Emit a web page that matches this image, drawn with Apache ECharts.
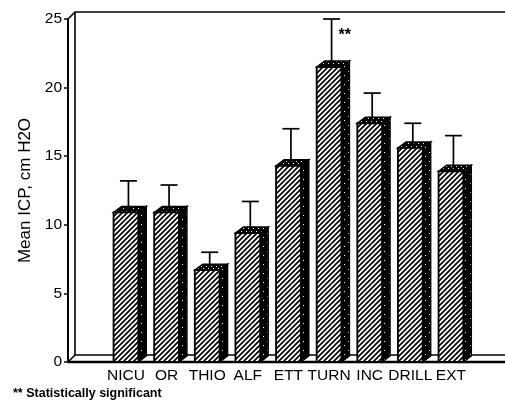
<!DOCTYPE html>
<html><head><meta charset="utf-8">
<script src="https://cdn.jsdelivr.net/npm/echarts@6/dist/echarts.min.js"></script>
<style>html,body{margin:0;padding:0;background:#fff}#c{width:505px;height:400px}</style>
</head><body><div id="c"></div>
<script>
// ---- data ----
const categories = ['NICU', 'OR', 'THIO', 'ALF', 'ETT', 'TURN', 'INC', 'DRILL', 'EXT'];
const meanICP    = [10.9, 10.9, 6.7, 9.4, 14.3, 21.5, 17.4, 15.6, 13.9];
const sdICP      = [2.3, 2.0, 1.3, 2.3, 2.7, 3.5, 2.2, 1.8, 2.6];
const significant = [false, false, false, false, false, true, false, false, false];
const yMin = 0, yMax = 25, yStep = 5;
const yAxisTitle = 'Mean ICP, cm H2O';
const footnote = '** Statistically significant';

// ---- textures ----
function hatch() {
  const s = 5, c = document.createElement('canvas'); c.width = s; c.height = s;
  const g = c.getContext('2d'); g.fillStyle = '#fff'; g.fillRect(0, 0, s, s);
  g.strokeStyle = '#000'; g.lineWidth = 1.7; g.beginPath();
  g.moveTo(-1, s + 1); g.lineTo(s + 1, -1);
  g.moveTo(-1, 1); g.lineTo(1, -1);
  g.moveTo(s - 1, s + 1); g.lineTo(s + 1, s - 1);
  g.stroke(); return c;
}
function stipple(s, dots) {
  const c = document.createElement('canvas'); c.width = s; c.height = s;
  const g = c.getContext('2d'); g.fillStyle = '#000'; g.fillRect(0, 0, s, s);
  g.fillStyle = '#fff'; dots.forEach(d => g.fillRect(d[0], d[1], 1, 1)); return c;
}
const hatchPat = { image: hatch(), repeat: 'repeat' };
const topPat = { image: stipple(5, [[1, 1], [3, 3]]), repeat: 'repeat' };
const sidePat = { image: stipple(9, [[2, 3], [6, 8]]), repeat: 'repeat' };

const xCats = [''].concat(categories);
const DX = 8, DY = 6;
const barData = categories.map((c, i) => [c, meanICP[i], sdICP[i], significant[i] ? 1 : 0]);

const chart = echarts.init(document.getElementById('c'), null, { renderer: 'canvas' });
const font = 'Arial, "Liberation Sans", Helvetica, sans-serif';

chart.setOption({
  animation: false,
  backgroundColor: '#fff',
  title: { text: footnote, left: 13, bottom: 0, padding: 0,
    textStyle: { fontSize: 12.5, fontWeight: 'bold', color: '#000', fontFamily: font } },
  grid: { left: 65, right: 33.75, top: 19, bottom: 38 },
  xAxis: {
    type: 'category', data: xCats, boundaryGap: true,
    axisLine: { show: false }, axisTick: { show: false },
    axisLabel: { interval: 0, color: '#000', fontSize: 15.5, fontFamily: font, margin: 6 }
  },
  yAxis: {
    type: 'value', min: yMin, max: yMax, interval: yStep, offset: -3,
    axisLine: { show: true, lineStyle: { color: '#000', width: 2 } },
    axisTick: { show: true, length: 4, lineStyle: { color: '#000', width: 1.5 } },
    axisLabel: { color: '#000', fontSize: 15.5, fontFamily: font, margin: 6 },
    splitLine: { show: false },
    name: yAxisTitle, nameLocation: 'middle', nameGap: 34,
    nameTextStyle: { fontSize: 17, color: '#000', fontFamily: font }
  },
  series: [
    { // 3D frame: back wall and floor
      type: 'custom', z: 1, silent: true, data: [[xCats[0], yMin]],
      renderItem: function (params, api) {
        const cs = params.coordSys;
        const ax = cs.x + 3;
        const y0 = api.coord([xCats[0], yMin])[1];
        const y1 = api.coord([xCats[0], yMax])[1];
        const W = api.getWidth();
        const ls = { stroke: '#000', lineWidth: 1.6, fill: null };
        return { type: 'group', children: [
          { type: 'polyline', shape: { points: [[ax, y1], [ax + 7, y1 - 7], [W, y1 - 7]] }, style: ls },
          { type: 'line', shape: { x1: ax + 7, y1: y1 - 7, x2: ax + 7, y2: y0 - 7 }, style: ls },
          { type: 'polyline', shape: { points: [[ax, y0], [ax + 7, y0 - 7], [W, y0 - 7]] }, style: ls },
          { type: 'line', shape: { x1: ax, y1: y0, x2: W, y2: y0 }, style: { stroke: '#000', lineWidth: 2.5 } }
        ] };
      }
    },
    { // 3D bars
      type: 'custom', z: 2, silent: true, data: barData,
      encode: { x: 0, y: 1 },
      renderItem: function (params, api) {
        const top = api.coord([api.value(0), api.value(1)]);
        const base = api.coord([api.value(0), yMin]);
        const w = api.size([1, 0])[0] * 0.61;
        const x0 = top[0] - w / 2, x1 = top[0] + w / 2, yt = top[1], yb = base[1];
        const st = { stroke: '#000', lineWidth: 1.4 };
        return { type: 'group', children: [
          { type: 'polygon', shape: { points: [[x1, yt], [x1 + DX, yt - DY], [x1 + DX, yb - DY], [x1, yb]] },
            style: Object.assign({ fill: sidePat }, st) },
          { type: 'polygon', shape: { points: [[x0, yt], [x1, yt], [x1 + DX, yt - DY], [x0 + DX, yt - DY]] },
            style: Object.assign({ fill: topPat }, st) },
          { type: 'rect', shape: { x: x0, y: yt, width: w, height: yb - yt },
            style: { fill: hatchPat, stroke: '#000', lineWidth: 1.8 } }
        ] };
      }
    },
    { // error bars and significance marks
      type: 'custom', z: 3, silent: true, data: barData,
      encode: { x: 0, y: 1 },
      renderItem: function (params, api) {
        const m = api.value(1), sd = api.value(2);
        const top = api.coord([api.value(0), m]);
        const cap = api.coord([api.value(0), m + sd]);
        const sx = top[0] + 2.5, sy = top[1] - DY / 2;
        const ls = { stroke: '#000', lineWidth: 1.7 };
        const ch = [
          { type: 'line', shape: { x1: sx, y1: sy, x2: sx, y2: cap[1] }, style: ls },
          { type: 'line', shape: { x1: sx - 8.5, y1: cap[1], x2: sx + 8.5, y2: cap[1] }, style: ls }
        ];
        if (api.value(3)) {
          ch.push({ type: 'text', x: sx + 7, y: cap[1] + 17,
            style: { text: '**', fill: '#000', font: 'bold 16px ' + font, verticalAlign: 'middle', align: 'left' } });
        }
        return { type: 'group', children: ch };
      }
    }
  ]
});
</script></body></html>
